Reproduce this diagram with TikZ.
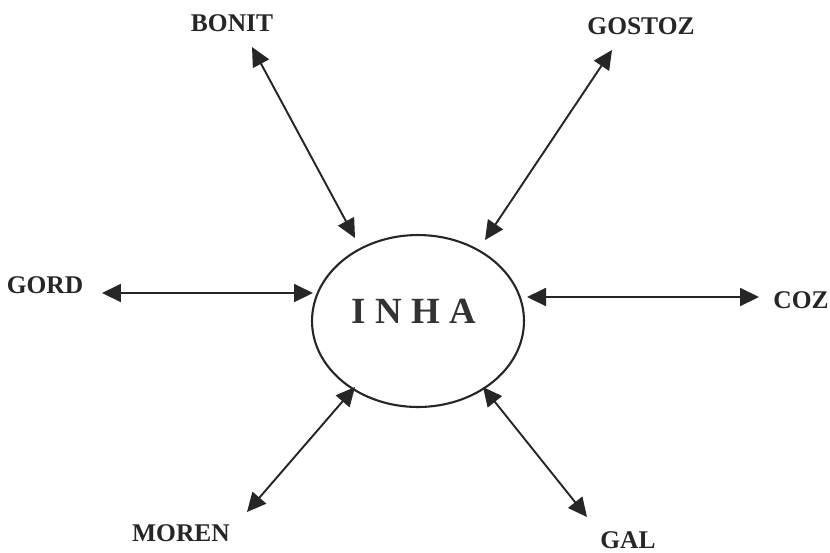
\documentclass[tikz,border=0pt]{standalone}
\usepackage{fontspec}
\setmainfont{Liberation Serif}
\usetikzlibrary{arrows.meta,shapes.geometric}

\tikzset{
    lbl/.style={font=\bfseries\fontsize{14.5}{17}\selectfont, text=black!85, inner sep=0pt},
    link/.style={{Triangle[length=0.38cm,width=0.36cm]}-{Triangle[length=0.38cm,width=0.36cm]}, line width=1.1pt, draw=black!85, fill=black!85},
}

\begin{document}
\begin{tikzpicture}[x=0.02cm, y=-0.02cm]
        	% Frame:
        	\useasboundingbox (0, 0) rectangle (830, 552);
        	% Centre:
        	\node[ellipse, draw=black!85, line width=1.2pt, minimum width=4.24cm, minimum height=3.44cm, inner sep=0pt](inha) at (418, 321){};
        	\node[font=\bfseries\fontsize{21}{24}\selectfont, text=black!80, inner sep=0pt](inhatext) at (414, 311){I N H A};
        	% Labels:
        	\node[lbl](bonit) at (232, 23){BONIT};
        	\node[lbl](gostoz) at (641, 26){GOSTOZ};
        	\node[lbl](gord) at (45, 285){GORD};
        	\node[lbl](coz) at (801, 300){COZ};
        	\node[lbl](moren) at (181, 533){MOREN};
        	\node[lbl](gal) at (628, 540){GAL};
        	% Arrow ends:
        	\coordinate (bonitA) at (252, 47);
        	\coordinate (bonitB) at (355, 238);
        	\coordinate (gostozA) at (612, 50);
        	\coordinate (gostozB) at (485, 240);
        	\coordinate (gordA) at (102, 293);
        	\coordinate (gordB) at (313, 293);
        	\coordinate (cozA) at (759, 297);
        	\coordinate (cozB) at (527, 297);
        	\coordinate (morenA) at (247, 512);
        	\coordinate (morenB) at (355, 387);
        	\coordinate (galA) at (587, 517);
        	\coordinate (galB) at (483, 387);
        	% Arrows:
        	\draw[link] (bonitA) -- (bonitB);
        	\draw[link] (gostozA) -- (gostozB);
        	\draw[link] (gordA) -- (gordB);
        	\draw[link] (cozA) -- (cozB);
        	\draw[link] (morenA) -- (morenB);
        	\draw[link] (galA) -- (galB);
\end{tikzpicture}
\end{document}
